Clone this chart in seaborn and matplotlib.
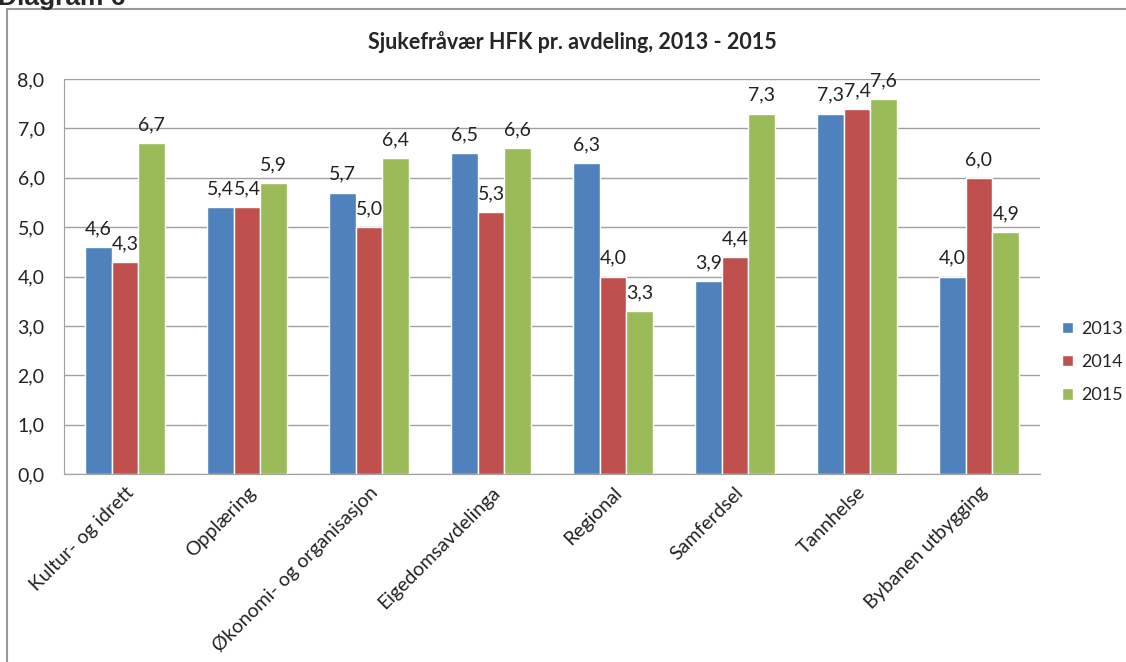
import pandas as pd
import matplotlib.pyplot as plt
import matplotlib.patches as patches
import seaborn as sns

# -------------------------------
# Data
# -------------------------------
avdelingar = ["Kultur- og idrett", "Opplæring", "Økonomi- og organisasjon",
              "Eigedomsavdelinga", "Regional", "Samferdsel", "Tannhelse",
              "Bybanen utbygging"]
years = ["2013", "2014", "2015"]
v2013 = [4.6, 5.4, 5.7, 6.5, 6.3, 3.9, 7.3, 4.0]
v2014 = [4.3, 5.4, 5.0, 5.3, 4.0, 4.4, 7.4, 6.0]
v2015 = [6.7, 5.9, 6.4, 6.6, 3.3, 7.3, 7.6, 4.9]
yticks = [0, 1, 2, 3, 4, 5, 6, 7, 8]

colors = ["#4F81BD", "#C0504D", "#9BBB59"]

rows = []
for yr, vals in zip(years, [v2013, v2014, v2015]):
    for a, v in zip(avdelingar, vals):
        rows.append({"avdeling": a, "year": yr, "value": v})
df = pd.DataFrame(rows)

# -------------------------------
# Plot
# -------------------------------
sns.set_style("white")
plt.rcParams["font.family"] = ["Lato", "DejaVu Sans"]

fig = plt.figure(figsize=(11.26, 6.62), dpi=100)
ax = fig.add_axes([64 / 1126, 1 - 474 / 662, (1040 - 64) / 1126, (474 - 79) / 662])

sns.barplot(data=df, x="avdeling", y="value", hue="year", palette=colors,
            width=0.66, gap=0, ax=ax, legend=True, saturation=1)

for cont in ax.containers:
    ax.bar_label(cont, labels=[f"{b.get_height():.1f}".replace(".", ",") for b in cont],
                 padding=7, fontsize=14, color="#222222")

ax.set_ylim(0, 8)
ax.set_yticks(yticks)
ax.set_yticklabels([f"{t:.1f}".replace(".", ",") for t in yticks], fontsize=14)
ax.set_xlim(-0.5, len(avdelingar) - 0.5)
ax.set_xlabel("")
ax.set_ylabel("")
ax.grid(axis="y", color="#A0A0A0", linewidth=1)
ax.set_axisbelow(True)
for s in ["top", "right"]:
    ax.spines[s].set_visible(False)
for s in ["left", "bottom"]:
    ax.spines[s].set_color("#A0A0A0")
ax.tick_params(axis="y", length=0, pad=14, colors="#222222")
ax.tick_params(axis="x", length=0, pad=7, colors="#222222")
plt.setp(ax.get_xticklabels(), rotation=45, ha="right", rotation_mode="anchor",
         fontsize=14)

ax.legend(loc="center left", bbox_to_anchor=(1062 / 1126, 1 - 362 / 662),
          bbox_transform=fig.transFigure, frameon=False, fontsize=13,
          borderpad=0, borderaxespad=0,
          handlelength=0.6, handleheight=0.6, handletextpad=0.45, labelspacing=0.95)

fig.text(572 / 1126, 1 - 42 / 662, "Sjukefråvær HFK pr. avdeling, 2013 - 2015",
         ha="center", va="center", fontsize=15.5, fontweight="bold")

# outer chart frame and cut-off caption
fig.patches.append(patches.Rectangle((7 / 1126, -0.05), 1.2, 1 - 9 / 662 + 0.05,
                                     transform=fig.transFigure, fill=False,
                                     edgecolor="#999999", linewidth=1.5))
fig.text(-2 / 1126, 1 - 5 / 662, "Diagram 6", ha="left", va="baseline",
         fontsize=19, fontweight="bold", family=["Liberation Sans"])

fig.savefig("out.png", dpi=100)
